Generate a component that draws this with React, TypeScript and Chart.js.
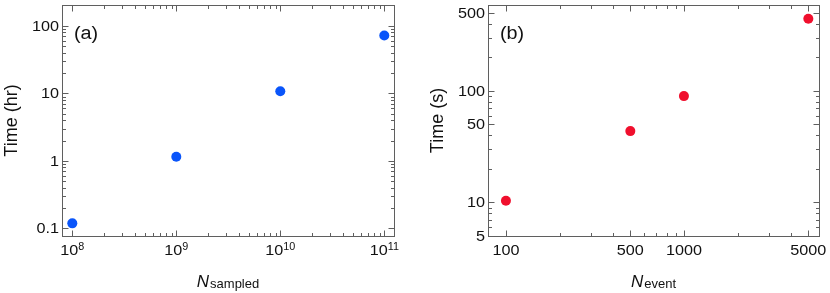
import { useEffect, useRef } from 'react';
import { Chart, registerables } from 'chart.js';

Chart.register(...registerables);

const FONT = '"Liberation Sans", Arial, Helvetica, sans-serif';

// ---- data ----
const sampledN = [1e8, 1e9, 1e10, 1e11];
const sampledTimeHr = [0.119, 1.15, 10.8, 72];
const eventN = [100, 500, 1000, 5000];
const eventTimeS = [10.35, 43.6, 89.8, 443];

// ---- ticks ----
const aXTicks = [1e8, 1e9, 1e10, 1e11];
const aXExponents = ['8', '9', '10', '11'];
const aXMinor = [1e8, 1e9, 1e10].flatMap((d) => [2, 3, 4, 5, 6, 7, 8, 9].map((m) => m * d));
const aYTicks = [0.1, 1, 10, 100];
const aYLabels = ['0.1', '1', '10', '100'];
const aYMinor = [0.1, 1, 10].flatMap((d) => [2, 3, 4, 5, 6, 7, 8, 9].map((m) => m * d));

const bXTicks = [100, 500, 1000, 5000];
const bXLabels = ['100', '500', '1000', '5000'];
const bXMinor = [200, 300, 400, 600, 700, 800, 900, 2000, 3000, 4000];
const bYTicks = [5, 10, 50, 100, 500];
const bYLabels = ['5', '10', '50', '100', '500'];
const bYMinor = [6, 7, 8, 9, 20, 30, 40, 60, 70, 80, 90, 200, 300, 400];

type PanelCfg = {
  xs: number[];
  ys: number[];
  color: string;
  xMin: number; xMax: number; yMin: number; yMax: number;
  xTicks: number[]; xLabels: string[]; xExps?: string[]; xMinor: number[];
  yTicks: number[]; yLabels: string[]; yMinor: number[];
  yTitle: string; xSub: string; tag: string;
  padLeft: number; padRight: number; yTitleX: number; tagX: number;
};

const FRAME = '#5f5f5f';
const TEXT = '#111111';
const SX = 1.08; // horizontal stretch of tick labels

function makePlugin(cfg: PanelCfg) {
  return {
    id: 'frameTicks',
    afterDraw(chart: any) {
      const { ctx, chartArea } = chart;
      const { left, right, top, bottom } = chartArea;
      const xs = chart.scales.x;
      const ys = chart.scales.y;
      ctx.save();
      ctx.strokeStyle = FRAME;
      ctx.lineWidth = 1;
      ctx.strokeRect(Math.round(left) + 0.5, Math.round(top) + 0.5, Math.round(right - left), Math.round(bottom - top));
      const L = Math.round(left) + 0.5, R = Math.round(right) + 0.5, T = Math.round(top) + 0.5, B = Math.round(bottom) + 0.5;
      const tick = (vals: number[], len: number) => {
        ctx.beginPath();
        for (const v of vals) {
          const px = Math.round(xs.getPixelForValue(v)) + 0.5;
          if (px < L || px > R) continue;
          ctx.moveTo(px, B); ctx.lineTo(px, B - len);
          ctx.moveTo(px, T); ctx.lineTo(px, T + len);
        }
        ctx.stroke();
      };
      const tickY = (vals: number[], len: number) => {
        ctx.beginPath();
        for (const v of vals) {
          const py = Math.round(ys.getPixelForValue(v)) + 0.5;
          if (py < T || py > B) continue;
          ctx.moveTo(L, py); ctx.lineTo(L + len, py);
          ctx.moveTo(R, py); ctx.lineTo(R - len, py);
        }
        ctx.stroke();
      };
      tick(cfg.xTicks, 6);
      tick(cfg.xMinor, 3.5);
      tickY(cfg.yTicks, 6);
      tickY(cfg.yMinor, 3.5);

      const stretched = (text: string, x: number, y: number, align: 'left' | 'right') => {
        ctx.save();
        ctx.translate(x, y);
        ctx.scale(SX, 1);
        ctx.textAlign = align;
        ctx.fillText(text, 0, 0);
        ctx.restore();
      };

      ctx.fillStyle = TEXT;
      ctx.textBaseline = 'alphabetic';
      // x tick labels
      cfg.xTicks.forEach((v, i) => {
        const px = xs.getPixelForValue(v);
        const base = cfg.xLabels[i];
        ctx.font = `15px ${FONT}`;
        const wb = ctx.measureText(base).width * SX;
        let we = 0;
        const exp = cfg.xExps ? cfg.xExps[i] : '';
        if (exp) {
          ctx.font = `10px ${FONT}`;
          we = ctx.measureText(exp).width * SX;
        }
        const x0 = px - (wb + we) / 2;
        ctx.font = `15px ${FONT}`;
        stretched(base, x0, bottom + 18.5, 'left');
        if (exp) {
          ctx.font = `10px ${FONT}`;
          stretched(exp, x0 + wb, bottom + 14, 'left');
        }
      });
      // y tick labels
      ctx.font = `15px ${FONT}`;
      cfg.yTicks.forEach((v, i) => {
        const py = ys.getPixelForValue(v);
        stretched(cfg.yLabels[i], left - 3, py + 4.8, 'right');
      });
      // y title
      ctx.save();
      ctx.translate(cfg.yTitleX, (top + bottom) / 2);
      ctx.rotate(-Math.PI / 2);
      ctx.font = `18px ${FONT}`;
      ctx.textAlign = 'center';
      ctx.textBaseline = 'middle';
      ctx.fillText(cfg.yTitle, 0, 0);
      ctx.restore();
      // x title
      ctx.textAlign = 'left';
      ctx.font = `italic 17px ${FONT}`;
      const wN = ctx.measureText('N').width;
      ctx.font = `13px ${FONT}`;
      const wS = ctx.measureText(cfg.xSub).width;
      const cx = (left + right) / 2;
      const sx = cx - (wN + 1 + wS) / 2;
      ctx.font = `italic 17px ${FONT}`;
      ctx.fillText('N', sx, 287);
      ctx.font = `13px ${FONT}`;
      ctx.fillText(cfg.xSub, sx + wN + 1, 288);
      // panel tag
      ctx.font = `18px ${FONT}`;
      ctx.save();
      ctx.translate(cfg.tagX, 38.5);
      ctx.scale(1.1, 1);
      ctx.fillText(cfg.tag, 0, 0);
      ctx.restore();
      ctx.restore();
    },
  };
}

function Panel({ cfg, x }: { cfg: PanelCfg; x: number }) {
  const ref = useRef<HTMLCanvasElement | null>(null);
  useEffect(() => {
    if (!ref.current) return;
    const chart = new Chart(ref.current, {
      type: 'scatter',
      data: {
        datasets: [
          {
            data: cfg.xs.map((v, i) => ({ x: v, y: cfg.ys[i] })),
            backgroundColor: cfg.color,
            borderWidth: 0,
            pointRadius: 5,
            pointHoverRadius: 5,
            pointBorderWidth: 0,
          },
        ],
      },
      options: {
        responsive: false,
        animation: false,
        events: [],
        layout: { padding: { top: 4, right: cfg.padRight, left: 0, bottom: 0 } },
        plugins: { legend: { display: false }, tooltip: { enabled: false } },
        scales: {
          x: {
            type: 'logarithmic',
            min: cfg.xMin,
            max: cfg.xMax,
            ticks: { display: false },
            grid: { display: false },
            border: { display: false },
            afterFit: (s: any) => { s.height = 57; },
          },
          y: {
            type: 'logarithmic',
            min: cfg.yMin,
            max: cfg.yMax,
            ticks: { display: false },
            grid: { display: false },
            border: { display: false },
            afterFit: (s: any) => { s.width = cfg.padLeft; },
          },
        },
      } as any,
      plugins: [makePlugin(cfg)],
    });
    return () => chart.destroy();
  }, [cfg]);
  return (
    <canvas
      ref={ref}
      width={415}
      height={293}
      style={{ position: 'absolute', left: x, top: 0, width: 415, height: 293 }}
    />
  );
}

const panelA: PanelCfg = {
  xs: sampledN, ys: sampledTimeHr, color: '#0a55fa',
  xMin: 7.96e7, xMax: 1.24e11, yMin: 0.0773, yMax: 204,
  xTicks: aXTicks, xLabels: aXTicks.map(() => '10'), xExps: aXExponents, xMinor: aXMinor,
  yTicks: aYTicks, yLabels: aYLabels, yMinor: aYMinor,
  yTitle: 'Time (hr)', xSub: 'sampled', tag: '(a)',
  padLeft: 62, padRight: 21, yTitleX: 12, tagX: 74,
};

const panelB: PanelCfg = {
  xs: eventN, ys: eventTimeS, color: '#f00f2d',
  xMin: 79.3, xMax: 5740, yMin: 5, yMax: 589,
  xTicks: bXTicks, xLabels: bXLabels, xMinor: bXMinor,
  yTicks: bYTicks, yLabels: bYLabels, yMinor: bYMinor,
  yTitle: 'Time (s)', xSub: 'event', tag: '(b)',
  padLeft: 73, padRight: 11, yTitleX: 23, tagX: 85,
};

export default function App() {
  useEffect(() => {
    document.body.style.margin = '0';
  }, []);
  return (
    <div style={{ position: 'relative', width: 830, height: 293, background: '#fff' }}>
      <Panel cfg={panelA} x={0} />
      <Panel cfg={panelB} x={415} />
    </div>
  );
}
